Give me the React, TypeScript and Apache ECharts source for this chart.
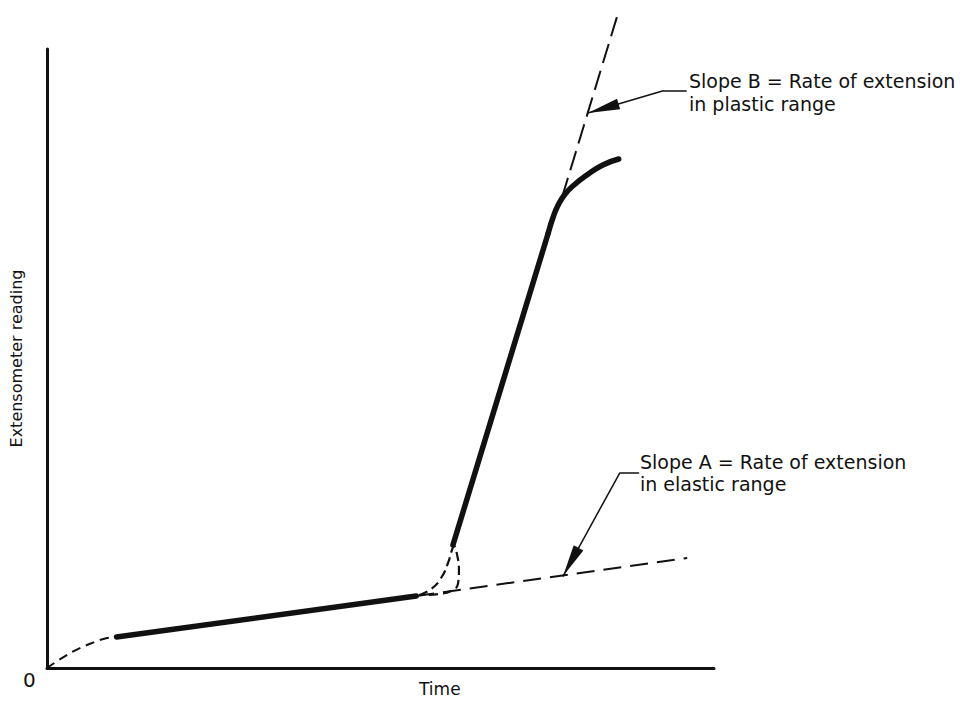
import React, { useEffect, useRef } from "react";
import * as echarts from "echarts";

// Values in arbitrary units: time 0..100, extensometer reading 0..100
const initialCurveX = [0, 2.23, 4.32, 6.55, 8.48, 10.42];
const initialCurveY = [0, 1.6, 2.9, 3.95, 4.7, 5.01];

const elasticSolidX = [10.42, 55.36];
const elasticSolidY = [5.01, 11.63];

const slopeAX = [55.36, 95.98];
const slopeAY = [11.63, 17.77];

const loopX = [55.8, 57.59, 59.08, 60.12, 60.71, 61.01, 61.46, 61.76, 61.61, 60.57, 58.78, 56.85];
const loopY = [11.79, 12.76, 14.54, 16.96, 19.06, 19.71, 18.4, 15.8, 13.6, 12.44, 11.95, 11.79];

const plasticSolidX = [60.86, 75.15];
const plasticSolidY = [19.87, 70.27];

const bendX = [75.15, 75.89, 76.64, 77.68, 79.02, 80.95, 83.33, 85.71];
const bendY = [70.27, 72.86, 74.8, 76.58, 78.03, 79.64, 81.26, 82.23];

const slopeBX = [77.23, 85.71];
const slopeBY = [76.09, 106.1];

const leaderBX = [95.83, 92.26, 81.1];
const leaderBY = [93.21, 93.21, 89.66];
const leaderAX = [88.69, 85.86, 77.38];
const leaderAY = [31.5, 31.5, 14.86];

const labelB = ["Slope B = Rate of extension", "in plastic range"];
const labelA = ["Slope A = Rate of extension", "in elastic range"];
const xName = "Time";
const yName = "Extensometer reading";
const originLabel = "0";

const zip = (xs: number[], ys: number[]) => xs.map((x, i) => [x, ys[i]]);

const FONT = "DejaVu Sans";
const INK = "#111";

export default function App() {
  const ref = useRef<HTMLDivElement>(null);
  useEffect(() => {
    if (!ref.current) return;
    const chart = echarts.init(ref.current, undefined, { renderer: "svg" });
    const lineBase = (data: number[][], width: number, dashed: number[] | null, smooth: boolean | number = false) => ({
      type: "line",
      data,
      smooth,
      showSymbol: false,
      symbol: "none",
      clip: false,
      silent: true,
      lineStyle: {
        color: INK,
        width,
        type: dashed ? dashed : "solid",
        cap: dashed ? "butt" : "round",
        join: "round",
      },
    });
    const arrowHeads = [
      [leaderBX[2], leaderBY[2], leaderBX[1], leaderBY[1]],
      [leaderAX[2], leaderAY[2], leaderAX[1], leaderAY[1]],
    ];
    chart.setOption({
      animation: false,
      backgroundColor: "#fff",
      grid: { left: 42, top: 49, right: 249, bottom: 36, containLabel: false },
      xAxis: {
        type: "value",
        min: 0,
        max: 100,
        axisLine: { show: true, lineStyle: { color: INK, width: 3 } },
        axisTick: { show: false },
        axisLabel: { show: false },
        splitLine: { show: false },
      },
      yAxis: {
        type: "value",
        min: 0,
        max: 100,
        name: yName,
        nameLocation: "middle",
        nameRotate: 90,
        nameGap: 23,
        nameTextStyle: { color: INK, fontFamily: FONT, fontSize: 16 },
        axisLine: { show: true, lineStyle: { color: INK, width: 3 } },
        axisTick: { show: false },
        axisLabel: { show: false },
        splitLine: { show: false },
      },
      series: [
        lineBase(zip(initialCurveX, initialCurveY), 2, [9, 6], true),
        lineBase(zip(elasticSolidX, elasticSolidY), 5.5, null),
        lineBase(zip(slopeAX, slopeAY), 2, [18, 9]),
        lineBase(zip(loopX, loopY), 2.2, [9, 5], true),
        lineBase(zip(plasticSolidX, plasticSolidY), 5.5, null),
        lineBase(zip(bendX, bendY), 5.5, null, true),
        lineBase(zip(slopeBX, slopeBY), 2, [20, 8]),
        lineBase(zip(leaderBX, leaderBY), 1.5, null),
        lineBase(zip(leaderAX, leaderAY), 1.5, null),
        {
          type: "custom",
          clip: false,
          silent: true,
          data: arrowHeads,
          renderItem: (_params: any, api: any) => {
            const tip = api.coord([api.value(0), api.value(1)]);
            const from = api.coord([api.value(2), api.value(3)]);
            const dx = from[0] - tip[0];
            const dy = from[1] - tip[1];
            const len = Math.sqrt(dx * dx + dy * dy) || 1;
            const ux = dx / len;
            const uy = dy / len;
            const L = 32;
            const W = 5.5;
            const bx = tip[0] + ux * L;
            const by = tip[1] + uy * L;
            return {
              type: "polygon",
              shape: {
                points: [
                  [tip[0], tip[1]],
                  [bx - uy * W, by + ux * W],
                  [bx + uy * W, by - ux * W],
                ],
              },
              style: { fill: INK },
            };
          },
        },
      ],
      graphic: [
        {
          type: "text",
          left: 689,
          top: 69,
          style: { text: labelB.join("\n"), fill: INK, font: `19px "${FONT}"`, lineHeight: 23 },
        },
        {
          type: "text",
          left: 640,
          top: 451,
          style: { text: labelA.join("\n"), fill: INK, font: `19px "${FONT}"`, lineHeight: 22 },
        },
        {
          type: "text",
          left: 419,
          top: 680,
          style: { text: xName, fill: INK, font: `17px "${FONT}"` },
        },
        {
          type: "text",
          left: 23,
          top: 670,
          style: { text: originLabel, fill: INK, font: `20px "${FONT}"` },
        },
      ],
    });
    return () => chart.dispose();
  }, []);
  return (
    <div
      ref={ref}
      style={{ position: "absolute", left: 0, top: 0, width: 963, height: 704, background: "#fff" }}
    />
  );
}
